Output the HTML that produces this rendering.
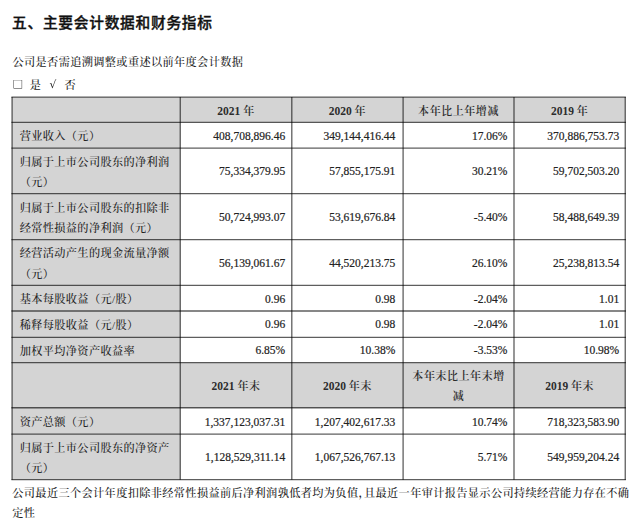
<!DOCTYPE html>
<html lang="zh-CN"><head><meta charset="utf-8"><title>主要会计数据和财务指标</title>
<style>
html,body{margin:0;padding:0;background:#fff;}
body{width:640px;height:521px;position:relative;overflow:hidden;font-family:"Liberation Serif","Noto Serif CJK SC",serif;color:#222;}
svg{position:absolute;left:0;top:0;}
h1{position:absolute;left:12px;top:11.7px;margin:0;font-family:"Liberation Sans","Noto Sans CJK SC",sans-serif;font-size:14.7px;letter-spacing:0.75px;line-height:22px;font-weight:500;-webkit-text-stroke:0.35px #111;color:#111;white-space:nowrap;}
.t{position:absolute;white-space:nowrap;height:16px;line-height:16px;color:#222;}
.l{font-size:11.2px;letter-spacing:0.35px;font-weight:500;}
.n{font-size:11.5px;text-align:right;-webkit-text-stroke:0.2px #222;}
.h{font-size:11.5px;font-weight:bold;text-align:center;color:#2c2c2c;}
.h .k{font-size:11px;letter-spacing:0.55px;font-weight:600;color:#2c2c2c;}
.p{font-size:11.2px;letter-spacing:0.35px;font-weight:500;}
.cjk{font-family:"Noto Serif CJK SC",serif;}
</style></head><body>
<svg width="640" height="521" viewBox="0 0 640 521">
<rect x="12.06" y="97.10" width="168.19" height="382.60" fill="#d4d4d4"/>
<rect x="12.06" y="97.10" width="613.19" height="25.35" fill="#d4d4d4"/>
<rect x="12.06" y="362.55" width="613.19" height="45.20" fill="#d4d4d4"/>
<g>
<line x1="11.41" y1="97.10" x2="625.90" y2="97.10" stroke="#000" stroke-opacity="0.63" stroke-width="1.3"/>
<line x1="11.41" y1="122.45" x2="625.90" y2="122.45" stroke="#000" stroke-opacity="0.63" stroke-width="1.3"/>
<line x1="11.41" y1="148.15" x2="625.90" y2="148.15" stroke="#000" stroke-opacity="0.63" stroke-width="1.3"/>
<line x1="11.41" y1="193.65" x2="625.90" y2="193.65" stroke="#000" stroke-opacity="0.63" stroke-width="1.3"/>
<line x1="11.41" y1="239.65" x2="625.90" y2="239.65" stroke="#000" stroke-opacity="0.63" stroke-width="1.3"/>
<line x1="11.41" y1="285.45" x2="625.90" y2="285.45" stroke="#000" stroke-opacity="0.63" stroke-width="1.3"/>
<line x1="11.41" y1="311.00" x2="625.90" y2="311.00" stroke="#000" stroke-opacity="0.63" stroke-width="1.3"/>
<line x1="11.41" y1="337.30" x2="625.90" y2="337.30" stroke="#000" stroke-opacity="0.63" stroke-width="1.3"/>
<line x1="11.41" y1="362.55" x2="625.90" y2="362.55" stroke="#000" stroke-opacity="0.63" stroke-width="1.3"/>
<line x1="11.41" y1="407.75" x2="625.90" y2="407.75" stroke="#000" stroke-opacity="0.63" stroke-width="1.3"/>
<line x1="11.41" y1="434.15" x2="625.90" y2="434.15" stroke="#000" stroke-opacity="0.63" stroke-width="1.3"/>
<line x1="11.41" y1="479.70" x2="625.90" y2="479.70" stroke="#000" stroke-opacity="0.63" stroke-width="1.3"/>
<line x1="12.06" y1="97.10" x2="12.06" y2="479.70" stroke="#000" stroke-opacity="0.63" stroke-width="1.3"/>
<line x1="180.25" y1="97.10" x2="180.25" y2="479.70" stroke="#000" stroke-opacity="0.63" stroke-width="1.3"/>
<line x1="291.80" y1="97.10" x2="291.80" y2="479.70" stroke="#000" stroke-opacity="0.63" stroke-width="1.3"/>
<line x1="403.10" y1="97.10" x2="403.10" y2="479.70" stroke="#000" stroke-opacity="0.63" stroke-width="1.3"/>
<line x1="514.00" y1="97.10" x2="514.00" y2="479.70" stroke="#000" stroke-opacity="0.63" stroke-width="1.3"/>
<line x1="625.25" y1="97.10" x2="625.25" y2="479.70" stroke="#000" stroke-opacity="0.63" stroke-width="1.3"/>
</g></svg>
<h1>五、主要会计数据和财务指标</h1>
<div class="t p" style="left:12.5px;top:54px;">公司是否需追溯调整或重述以前年度会计数据</div>
<div class="t p" style="left:12.6px;top:76.5px;font-size:10.7px;font-weight:400;font-family:'WenQuanYi Zen Hei',sans-serif;">□</div>
<div class="t p" style="left:29.8px;top:76.5px;">是</div>
<div class="t p" style="left:49.6px;top:77px;font-size:10.6px;font-weight:400;font-family:'WenQuanYi Zen Hei',sans-serif;">√</div>
<div class="t p" style="left:64.5px;top:76.5px;">否</div>
<div class="t h" style="left:180.25px;top:102.65px;width:111.55px;">2021 <span class="k">年</span></div>
<div class="t h" style="left:291.80px;top:102.65px;width:111.30px;">2020 <span class="k">年</span></div>
<div class="t h" style="left:403.10px;top:102.65px;width:110.90px;"><span class="k">本年比上年增减</span></div>
<div class="t h" style="left:514.00px;top:102.65px;width:111.25px;">2019 <span class="k">年</span></div>
<div class="t l" style="left:19.66px;top:128.10px;width:160.19px;">营业收入（元）</div>
<div class="t n" style="left:180.25px;top:128.20px;width:104.95px;">408,708,896.46</div>
<div class="t n" style="left:291.80px;top:128.20px;width:103.50px;">349,144,416.44</div>
<div class="t n" style="left:403.10px;top:128.20px;width:104.30px;">17.06%</div>
<div class="t n" style="left:514.00px;top:128.20px;width:105.15px;">370,886,753.73</div>
<div class="t l" style="left:19.66px;top:153.75px;width:160.19px;">归属于上市公司股东的净利润</div>
<div class="t l" style="left:19.66px;top:174.35px;width:160.19px;">（元）</div>
<div class="t n" style="left:180.25px;top:162.80px;width:104.95px;">75,334,379.95</div>
<div class="t n" style="left:291.80px;top:162.80px;width:103.50px;">57,855,175.91</div>
<div class="t n" style="left:403.10px;top:162.80px;width:104.30px;">30.21%</div>
<div class="t n" style="left:514.00px;top:162.80px;width:105.15px;">59,702,503.20</div>
<div class="t l" style="left:19.66px;top:199.55px;width:160.19px;">归属于上市公司股东的扣除非</div>
<div class="t l" style="left:19.66px;top:220.15px;width:160.19px;">经常性损益的净利润（元）</div>
<div class="t n" style="left:180.25px;top:208.60px;width:104.95px;">50,724,993.07</div>
<div class="t n" style="left:291.80px;top:208.60px;width:103.50px;">53,619,676.84</div>
<div class="t n" style="left:403.10px;top:208.60px;width:104.30px;">-5.40%</div>
<div class="t n" style="left:514.00px;top:208.60px;width:105.15px;">58,488,649.39</div>
<div class="t l" style="left:19.66px;top:245.45px;width:160.19px;">经营活动产生的现金流量净额</div>
<div class="t l" style="left:19.66px;top:266.05px;width:160.19px;">（元）</div>
<div class="t n" style="left:180.25px;top:255.40px;width:104.95px;">56,139,061.67</div>
<div class="t n" style="left:291.80px;top:255.40px;width:103.50px;">44,520,213.75</div>
<div class="t n" style="left:403.10px;top:255.40px;width:104.30px;">26.10%</div>
<div class="t n" style="left:514.00px;top:255.40px;width:105.15px;">25,238,813.54</div>
<div class="t l" style="left:19.66px;top:290.80px;width:160.19px;">基本每股收益（元/股）</div>
<div class="t n" style="left:180.25px;top:290.90px;width:104.95px;">0.96</div>
<div class="t n" style="left:291.80px;top:290.90px;width:103.50px;">0.98</div>
<div class="t n" style="left:403.10px;top:290.90px;width:104.30px;">-2.04%</div>
<div class="t n" style="left:514.00px;top:290.90px;width:105.15px;">1.01</div>
<div class="t l" style="left:19.66px;top:316.65px;width:160.19px;">稀释每股收益（元/股）</div>
<div class="t n" style="left:180.25px;top:316.15px;width:104.95px;">0.96</div>
<div class="t n" style="left:291.80px;top:316.15px;width:103.50px;">0.98</div>
<div class="t n" style="left:403.10px;top:316.15px;width:104.30px;">-2.04%</div>
<div class="t n" style="left:514.00px;top:316.15px;width:105.15px;">1.01</div>
<div class="t l" style="left:19.66px;top:342.80px;width:160.19px;">加权平均净资产收益率</div>
<div class="t n" style="left:180.25px;top:342.40px;width:104.95px;">6.85%</div>
<div class="t n" style="left:291.80px;top:342.40px;width:103.50px;">10.38%</div>
<div class="t n" style="left:403.10px;top:342.40px;width:104.30px;">-3.53%</div>
<div class="t n" style="left:514.00px;top:342.40px;width:105.15px;">10.98%</div>
<div class="t h" style="left:180.25px;top:378.05px;width:111.55px;">2021 <span class="k">年末</span></div>
<div class="t h" style="left:291.80px;top:378.05px;width:111.30px;">2020 <span class="k">年末</span></div>
<div class="t h" style="left:403.10px;top:368.20px;width:110.90px;"><span class="k">本年末比上年末增</span></div>
<div class="t h" style="left:403.10px;top:387.90px;width:110.90px;"><span class="k">减</span></div>
<div class="t h" style="left:514.00px;top:378.05px;width:111.25px;">2019 <span class="k">年末</span></div>
<div class="t l" style="left:19.66px;top:413.70px;width:160.19px;">资产总额（元）</div>
<div class="t n" style="left:180.25px;top:413.80px;width:104.95px;">1,337,123,037.31</div>
<div class="t n" style="left:291.80px;top:413.80px;width:103.50px;">1,207,402,617.33</div>
<div class="t n" style="left:403.10px;top:413.80px;width:104.30px;">10.74%</div>
<div class="t n" style="left:514.00px;top:413.80px;width:105.15px;">718,323,583.90</div>
<div class="t l" style="left:19.66px;top:439.60px;width:160.19px;">归属于上市公司股东的净资产</div>
<div class="t l" style="left:19.66px;top:459.60px;width:160.19px;">（元）</div>
<div class="t n" style="left:180.25px;top:448.95px;width:104.95px;">1,128,529,311.14</div>
<div class="t n" style="left:291.80px;top:448.95px;width:103.50px;">1,067,526,767.13</div>
<div class="t n" style="left:403.10px;top:448.95px;width:104.30px;">5.71%</div>
<div class="t n" style="left:514.00px;top:448.95px;width:105.15px;">549,959,204.24</div>
<div class="t p" style="left:12.30px;top:485.00px;width:620.00px;">公司最近三个会计年度扣除非经常性损益前后净利润孰低者均为负值<span style="margin-right:-6px">，</span>且最近一年审计报告显示公司持续经营能力存在不确</div>
<div class="t p" style="left:12.30px;top:505.30px;width:620.00px;">定性</div>
</body></html>
